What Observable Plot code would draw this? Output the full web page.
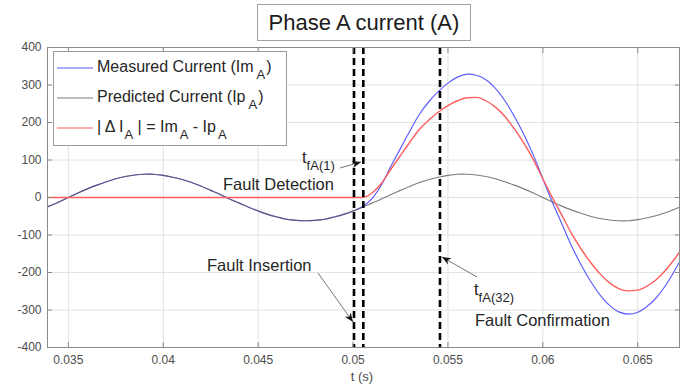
<!DOCTYPE html>
<html><head><meta charset="utf-8">
<script src="https://cdn.jsdelivr.net/npm/d3@7"></script>
<script src="https://cdn.jsdelivr.net/npm/@observablehq/plot@0.6"></script>
<style>
body{margin:0;background:#fff;}
#wrap{position:relative;width:699px;height:385px;font-family:"Liberation Sans",Arial,sans-serif;}
#title{position:absolute;left:257px;top:4px;width:214px;height:37px;border:1px solid #a0a0a0;background:#fff;box-sizing:border-box;font-size:22px;color:#1a1a1a;display:flex;align-items:center;justify-content:center;}
</style></head><body>
<div id="wrap"><div id="chart"></div><div id="title">Phase A current (A)</div></div>
<script>
const times = [0.0339,0.0345,0.0350,0.0355,0.0360,0.0365,0.0370,0.0375,0.0380,0.0385,0.0390,0.0395,0.0400,0.0405,0.0410,0.0415,0.0420,0.0425,0.0430,0.0435,0.0440,0.0445,0.0450,0.0455,0.0460,0.0465,0.0470,0.0475,0.0480,0.0485,0.0490,0.0495,0.0500,0.0505,0.0510,0.0515,0.0520,0.0525,0.0530,0.0535,0.0540,0.0545,0.0550,0.0555,0.0560,0.0565,0.0570,0.0575,0.0580,0.0585,0.0590,0.0595,0.0600,0.0605,0.0610,0.0615,0.0620,0.0625,0.0630,0.0635,0.0640,0.0645,0.0650,0.0655,0.0660,0.0665,0.0670,0.0672];
const measured = [-25,-12,0,12,23,33,42,50,56,60,62,62,59,54,48,40,30,19,8,-4,-15,-26,-36,-45,-52,-58,-61,-62,-61,-58,-52,-45,-36,-24,-3,34,84,131,178,222,256,283,305,321,329,326,314,291,258,216,168,113,50,-12,-70,-128,-178,-222,-259,-287,-305,-311,-306,-290,-266,-232,-190,-172];
const predicted = [-25,-12,0,12,23,33,42,50,56,60,62,62,59,54,48,40,30,19,8,-4,-15,-26,-36,-45,-52,-58,-61,-62,-61,-58,-52,-45,-36,-26,-15,-4,8,19,30,40,48,54,59,62,62,60,56,50,42,33,23,12,0,-12,-23,-33,-42,-50,-56,-60,-62,-62,-59,-54,-48,-40,-30,-26];
const deltaI = [0,0,0,0,0,0,0,0,0,0,0,0,0,0,0,0,0,0,0,0,0,0,0,0,0,0,0,0,0,0,0,0,0,0,12,38,76,112,148,182,207,228,245,258,266,267,258,241,216,183,145,101,50,0,-47,-95,-136,-172,-203,-227,-243,-249,-247,-236,-218,-192,-160,-146];
const eventTimes = [0.05005, 0.05054, 0.05458];
const xTicks = [0.035, 0.04, 0.045, 0.05, 0.055, 0.06, 0.065];
const xTickLabels = ["0.035", "0.04", "0.045", "0.05", "0.055", "0.06", "0.065"];
const yTicks = [-400, -300, -200, -100, 0, 100, 200, 300, 400];
const yTickLabels = ["-400", "-300", "-200", "-100", "0", "100", "200", "300", "400"];

const rows = times.map((t, i) => ({t, measured: measured[i], predicted: predicted[i], delta: deltaI[i]}));
const C_BLUE = "#5e5eff", C_GRAY = "#5a5a5a", C_RED = "#ff5e5e", C_AX = "#8a8a8a";

const plot = Plot.plot({
  width: 699, height: 385,
  marginLeft: 47, marginRight: 20, marginTop: 47, marginBottom: 38,
  style: {fontFamily: '"Liberation Sans", Arial, sans-serif', fontSize: "12px", color: "#4d4d4d", background: "#fff"},
  x: {domain: [0.0339, 0.0672]},
  y: {domain: [-400, 400]},
  marks: [
    Plot.gridX(xTicks, {stroke: "#e2e2e2", strokeOpacity: 1}),
    Plot.gridY(yTicks, {stroke: "#e2e2e2", strokeOpacity: 1}),
    Plot.line(rows, {x: "t", y: "measured", stroke: C_BLUE, strokeWidth: 1.2, curve: "catmull-rom"}),
    Plot.line(rows, {x: "t", y: "predicted", stroke: C_GRAY, strokeOpacity: 0.78, strokeWidth: 1.2, curve: "catmull-rom"}),
    Plot.line(rows, {x: "t", y: "delta", stroke: C_RED, strokeOpacity: 1, strokeWidth: 1.4, curve: "monotone-x"}),
    Plot.ruleX(eventTimes, {stroke: "#000", strokeWidth: 2.6, strokeDasharray: "7,4"}),
    Plot.frame({stroke: C_AX}),
    Plot.axisX(xTicks, {anchor: "bottom", tickSize: 0, tickPadding: 8, tickFormat: d => xTickLabels[xTicks.indexOf(d)], label: null}),
    Plot.axisX(xTicks, {anchor: "bottom", tickSize: -5, tickFormat: () => "", label: null, stroke: C_AX}),
    Plot.axisX(xTicks, {anchor: "top", tickSize: -5, tickFormat: () => "", label: null, stroke: C_AX}),
    Plot.axisY(yTicks, {anchor: "left", tickSize: 0, tickPadding: 6, tickFormat: d => yTickLabels[yTicks.indexOf(d)], label: null}),
    Plot.axisY(yTicks, {anchor: "left", tickSize: -5, tickFormat: () => "", label: null, stroke: C_AX}),
    Plot.axisY(yTicks, {anchor: "right", tickSize: -5, tickFormat: () => "", label: null, stroke: C_AX})
  ]
});
document.getElementById("chart").appendChild(plot);

const svg = d3.select(plot);
const F = '"Liberation Sans", Arial, sans-serif';
svg.append("defs").append("marker").attr("id", "ah")
  .attr("viewBox", "0 0 10 10").attr("refX", 10).attr("refY", 5)
  .attr("markerWidth", 9).attr("markerHeight", 9).attr("markerUnits", "userSpaceOnUse")
  .attr("orient", "auto")
  .append("path").attr("d", "M0,1 L10,5 L0,9 L3,5 Z").attr("fill", "#111");

const ann = svg.append("g").attr("font-family", F).attr("fill", "#262626").attr("text-anchor", "start");

// x label
ann.append("text").attr("x", 362).attr("y", 381).attr("text-anchor", "middle")
  .attr("font-size", 13).attr("fill", "#4d4d4d").text("t (s)");

function subText(g, x, y, parts, size, subSize) {
  const t = g.append("text").attr("x", x).attr("y", y).attr("font-size", size).attr("text-anchor", "start");
  let down = 0;
  parts.forEach(p => {
    const isSub = p[1];
    const dy = isSub ? (down ? 0 : 7) : (down ? -7 : 0);
    down = isSub ? 1 : 0;
    t.append("tspan").attr("dy", dy).attr("font-size", isSub ? subSize : size)
      .attr("dx", p[2] || 0).text(p[0]);
  });
  return t;
}

// arrows
[[340,168,361,162],[318,273,353,322],[477,277,442,257]].forEach(a => {
  ann.append("line").attr("x1", a[0]).attr("y1", a[1]).attr("x2", a[2]).attr("y2", a[3])
    .attr("stroke", "#777").attr("stroke-width", 1).attr("marker-end", "url(#ah)");
});

subText(ann, 302, 163, [["t", 0], ["fA(1)", 1]], 16.5, 13);
ann.append("text").attr("x", 223).attr("y", 190).attr("font-size", 16.5).text("Fault Detection");
ann.append("text").attr("x", 207).attr("y", 271).attr("font-size", 16.5).text("Fault Insertion");
subText(ann, 474, 295, [["t", 0], ["fA(32)", 1]], 16.5, 13);
ann.append("text").attr("x", 475).attr("y", 326).attr("font-size", 16.5).text("Fault Confirmation");

// legend
const lg = svg.append("g").attr("font-family", F).attr("fill", "#262626").attr("text-anchor", "start");
lg.append("rect").attr("x", 53.5).attr("y", 51.5).attr("width", 233).attr("height", 94)
  .attr("fill", "#fff").attr("stroke", "#9a9a9a");
const entries = [
  {color: C_BLUE, op: 1, y: 68, parts: [["Measured Current (Im", 0], ["A", 1, 3], [")", 0, 1]]},
  {color: C_GRAY, op: 0.78, y: 98, parts: [["Predicted Current (Ip", 0], ["A", 1, 3], [")", 0, 1]]},
  {color: C_RED, op: 1, y: 128, parts: [["| \u0394 I", 0], ["A", 1, 1], [" | = Im", 0], ["A", 1, 2], [" - Ip", 0], ["A", 1, 2]]}
];
entries.forEach(e => {
  lg.append("line").attr("x1", 57).attr("x2", 93).attr("y1", e.y).attr("y2", e.y)
    .attr("stroke", e.color).attr("stroke-opacity", e.op).attr("stroke-width", 1.2);
  subText(lg, 97, e.y + 4, e.parts, 16, 13);
});
</script>
</body></html>
